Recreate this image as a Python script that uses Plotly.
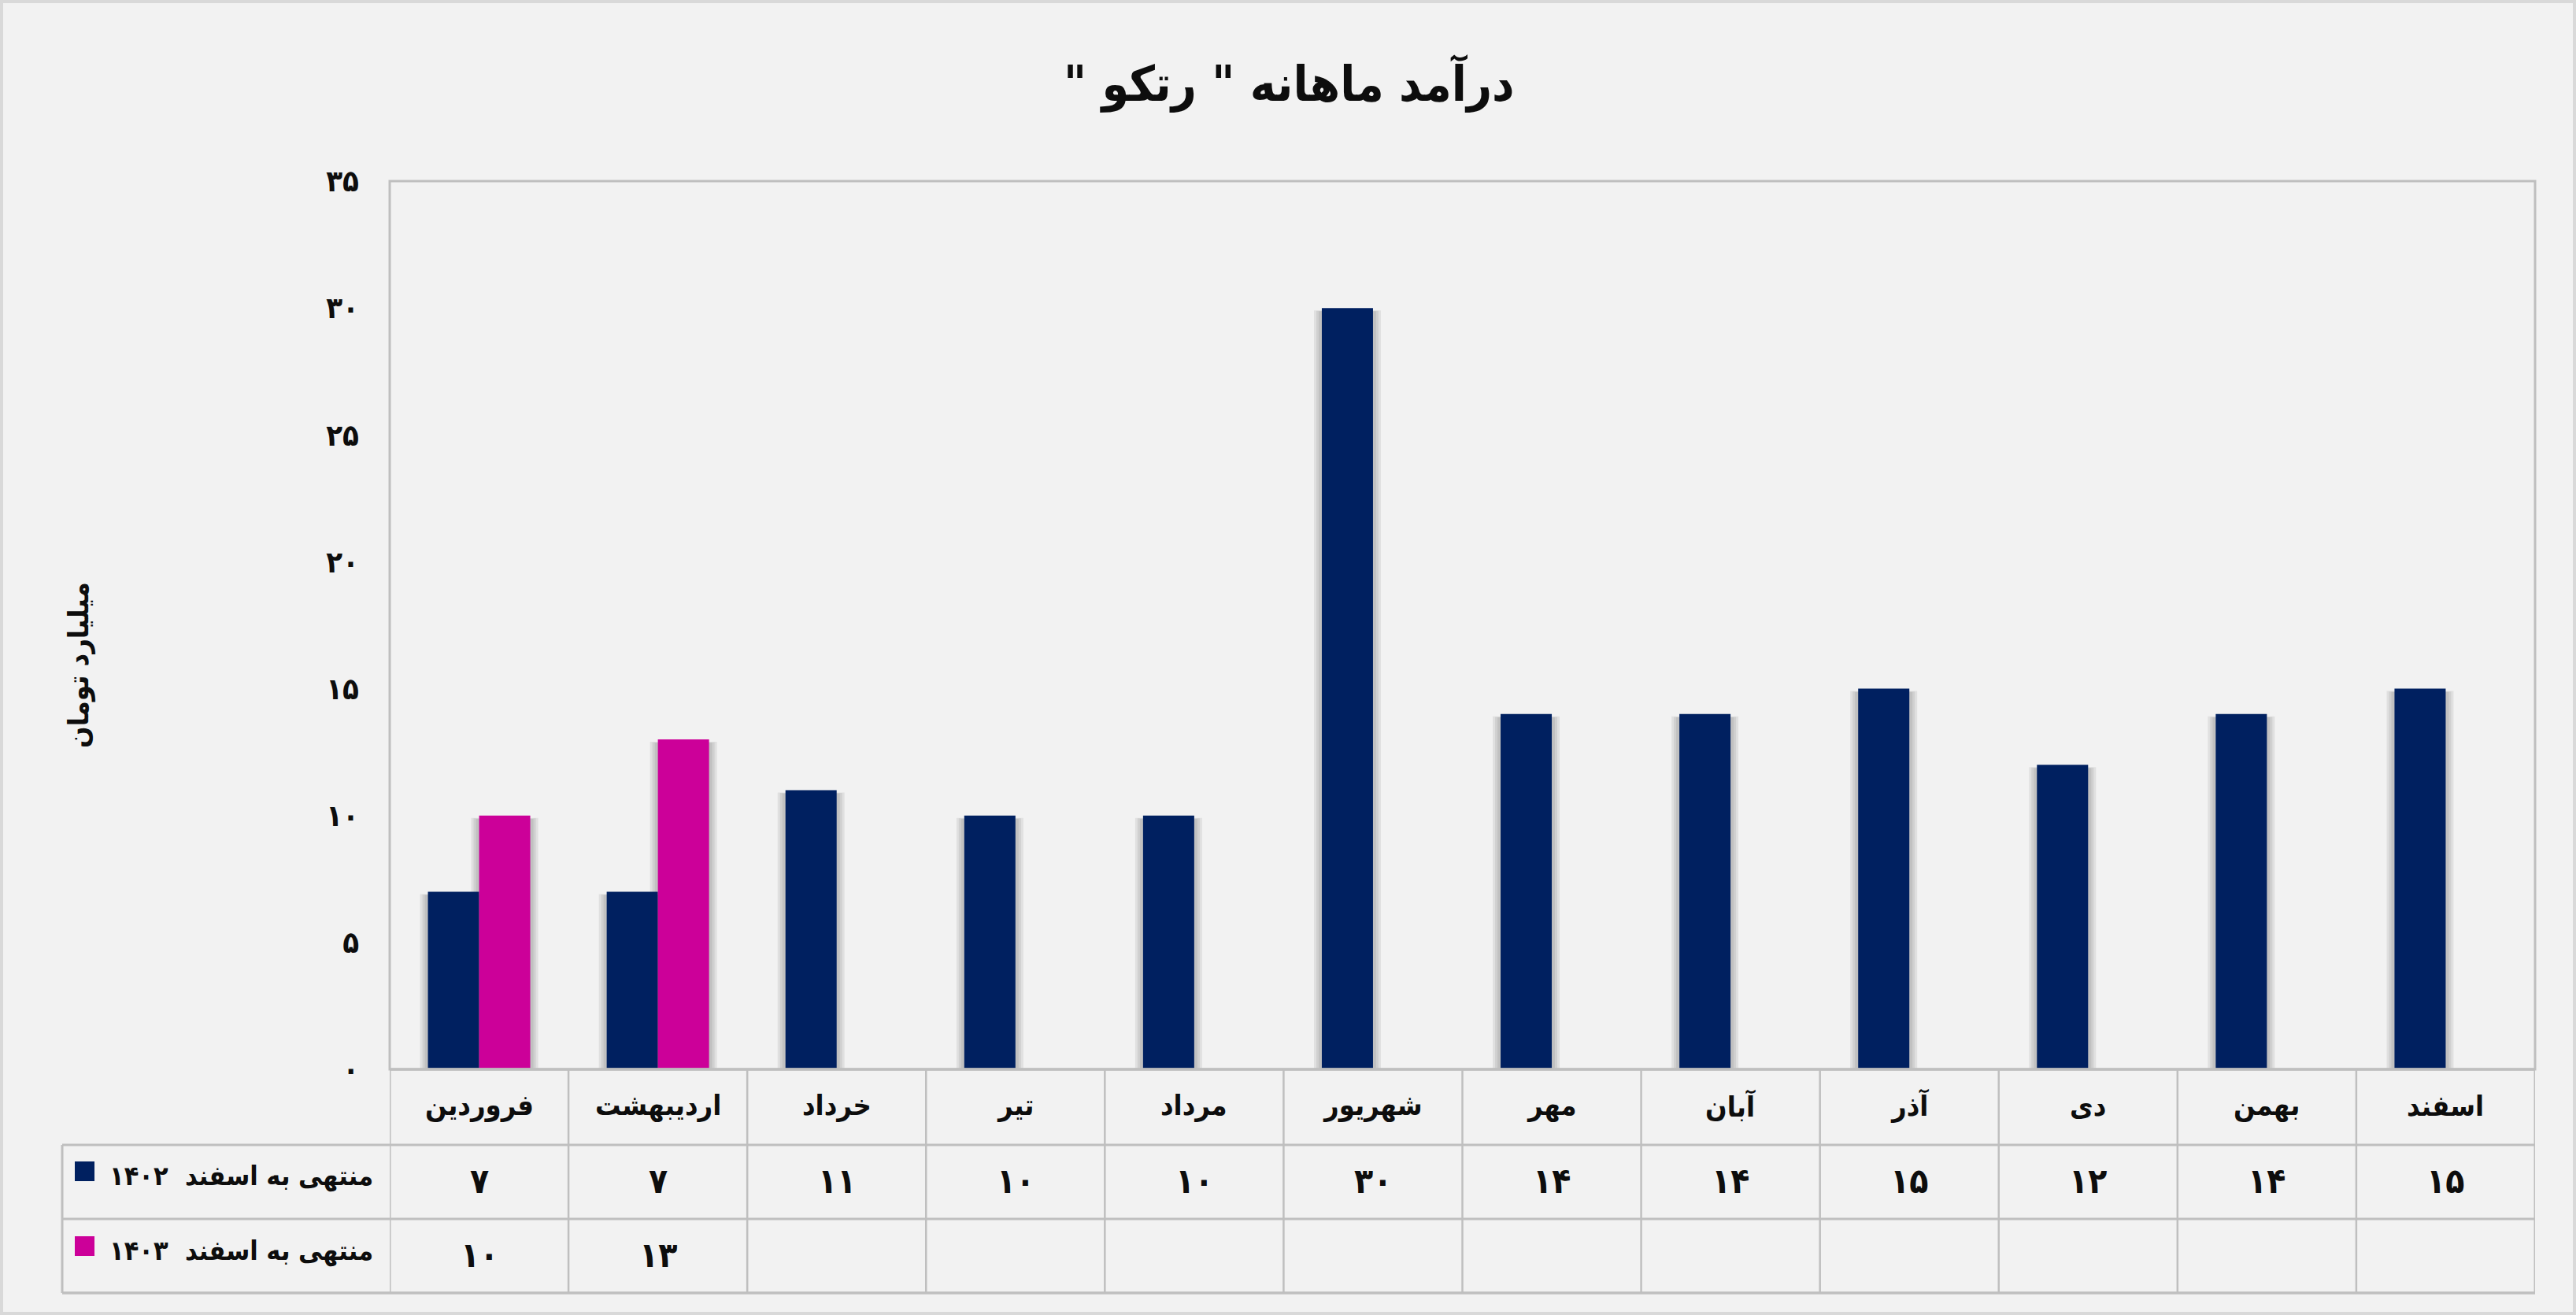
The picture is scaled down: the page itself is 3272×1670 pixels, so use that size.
import plotly.graph_objects as go

# ---------------- data ----------------
months = ["فروردین", "اردیبهشت", "خرداد", "تیر", "مرداد", "شهریور",
          "مهر", "آبان", "آذر", "دی", "بهمن", "اسفند"]
rev_1402 = [7, 7, 11, 10, 10, 30, 14, 14, 15, 12, 14, 15]
rev_1403 = [10, 13, None, None, None, None, None, None, None, None, None, None]
series_names = ["منتهی به اسفند  ۱۴۰۲", "منتهی به اسفند  ۱۴۰۳"]
y_ticks = [0, 5, 10, 15, 20, 25, 30, 35]
title_text = 'درآمد ماهانه " رتکو "\u200f'
y_title = "میلیارد تومان"

colors = ["#002060", "#CC0099"]

FA = str.maketrans("0123456789", "۰۱۲۳۴۵۶۷۸۹")


def fa(v):
    return str(v).translate(FA)


# ---------------- layout geometry (pixels) ----------------
W_PX, H_PX = 3272, 1670
L, R, T, B = 495, 3220, 230, 1358
PW, PH = R - L, B - T
CAT_PX = PW / len(months)
BAR_W = 65 / CAT_PX          # bar width in category units
Y_MAX = 35
UNIT_PX = PH / Y_MAX


def px(p):
    return (p - L) / PW


def py(p):
    return (B - p) / PH


FONT = "DejaVu Sans Condensed"
GRID = "#bfbfbf"
BG = "#f2f2f2"
TXT = "#0d0d0d"

fig = go.Figure()
offsets = [-BAR_W, 0.0]
series = [rev_1402, rev_1403]

# soft shadows behind bars
for vals, off in zip(series, offsets):
    for d in (10, 7, 4):
        dw = d / CAT_PX
        sv = [None if v is None else max(v - 5 / UNIT_PX + d / UNIT_PX * 0.2, 0) for v in vals]
        fig.add_trace(go.Bar(x=months, y=sv, offset=off - dw, width=BAR_W + 2 * dw,
                             marker_color="rgba(0,0,0,0.07)", marker_line_width=0,
                             showlegend=False, hoverinfo="skip"))

for vals, name, col, off in zip(series, series_names, colors, offsets):
    fig.add_trace(go.Bar(x=months, y=vals, name=name, marker_color=col,
                         offset=off, width=BAR_W,
                         marker_line_width=0, showlegend=False))

fig.update_layout(
    width=W_PX, height=H_PX, autosize=False,
    margin=dict(l=L, r=W_PX - R, t=T, b=H_PX - B, pad=0),
    paper_bgcolor=BG, plot_bgcolor=BG,
    barmode="overlay",
    font=dict(family=FONT, color=TXT),
    xaxis=dict(type="category", showticklabels=False, showgrid=False,
               zeroline=False, showline=False, ticks="", range=[-0.5, 11.5]),
    yaxis=dict(range=[0, Y_MAX], tickvals=y_ticks, ticktext=[fa(v) for v in y_ticks],
               showgrid=False, zeroline=False, showline=False, ticks="",
               ticklabelstandoff=38,
               tickfont=dict(family=FONT, size=38, weight="bold", color=TXT)),
)

shapes = []
# outer frame
shapes.append(dict(type="rect", xref="paper", yref="paper",
                   x0=px(2), x1=px(W_PX - 2), y0=py(2), y1=py(H_PX - 2),
                   line=dict(color="#d9d9d9", width=4), layer="below"))
# plot area border
shapes.append(dict(type="rect", xref="paper", yref="paper",
                   x0=0, x1=1, y0=0, y1=1, line=dict(color=GRID, width=3)))

# table horizontal lines
row_lines = [1358, 1454, 1548, 1642]
for i, yl in enumerate(row_lines):
    x0 = L if i == 0 else 79
    shapes.append(dict(type="line", xref="paper", yref="paper",
                       x0=px(x0), x1=1, y0=py(yl), y1=py(yl),
                       line=dict(color=GRID, width=3.5 if i in (0, 3) else 3)))
# table vertical lines
for k in range(len(months) + 1):
    shapes.append(dict(type="line", xref="x", yref="paper",
                       x0=k - 0.5, x1=k - 0.5, y0=py(1358), y1=py(1642),
                       line=dict(color=GRID, width=2.5 if 0 < k < len(months) else 3)))
shapes.append(dict(type="line", xref="paper", yref="paper",
                   x0=px(79), x1=px(79), y0=py(1454), y1=py(1642),
                   line=dict(color=GRID, width=3)))
# legend squares
for col, (y0, y1) in zip(colors, [(1475, 1500), (1570, 1595)]):
    shapes.append(dict(type="rect", xref="paper", yref="paper",
                       x0=px(95), x1=px(120), y0=py(y1), y1=py(y0),
                       fillcolor=col, line=dict(width=0)))

ann = []
# title
ann.append(dict(text=title_text, xref="paper", yref="paper",
                x=px(1637), y=py(105), xanchor="center", yanchor="middle",
                showarrow=False,
                font=dict(family=FONT, size=62, weight="bold", color=TXT)))
# y title
ann.append(dict(text=y_title, xref="paper", yref="paper",
                x=px(100), y=py(845), xanchor="center", yanchor="middle",
                textangle=-90, showarrow=False,
                font=dict(family=FONT, size=36, weight="bold", color=TXT)))
# month headers
for m in months:
    ann.append(dict(text=m, xref="x", yref="paper", x=m, y=py(1404),
                    xanchor="center", yanchor="middle", showarrow=False,
                    font=dict(family=FONT, size=36, weight="bold", color=TXT)))
# values
for vals, yc in [(rev_1402, 1499), (rev_1403, 1593)]:
    for m, v in zip(months, vals):
        if v is None:
            continue
        ann.append(dict(text=fa(v), xref="x", yref="paper", x=m, y=py(yc),
                        xanchor="center", yanchor="middle", showarrow=False,
                        font=dict(family=FONT, size=44, weight="bold", color=TXT)))
# legend labels
for name, yc in zip(series_names, [1493, 1588]):
    ann.append(dict(text=name, xref="paper", yref="paper", x=px(476), y=py(yc),
                    xanchor="right", yanchor="middle", showarrow=False,
                    font=dict(family=FONT, size=34, weight="bold", color=TXT)))

fig.update_layout(shapes=shapes, annotations=ann)

fig.write_html("out.html", config={"displayModeBar": False},
               post_script="document.body.style.margin='0';document.body.style.overflow='hidden';")
